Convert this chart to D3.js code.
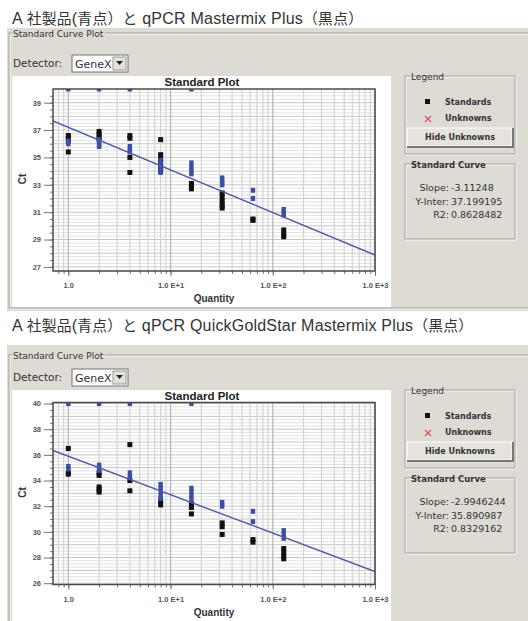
<!DOCTYPE html>
<html lang="ja">
<head>
<meta charset="UTF-8">
<title>Standard Curve Plot</title>
<style>
  body { margin: 0; background: #fff; }
  svg text { font-family: "DejaVu Sans", sans-serif; }
</style>
</head>
<body>
<svg id="chart"></svg>
<script src="https://cdn.jsdelivr.net/npm/d3@7/dist/d3.min.js"></script>
<script>
// ---- data ----
var quantities = [1, 2, 4, 8, 16, 32, 64, 128];
var xTickValues = [1, 10, 100, 1000];
var xTickLabels = ["1.0", "1.0 E+1", "1.0 E+2", "1.0 E+3"];
var headings = [
    "A 社製品(青点）と qPCR Mastermix Plus（黒点）",
    "A 社製品(青点）と qPCR QuickGoldStar Mastermix Plus（黒点）"
];

// panel 1 : Ct values per quantity (40 = undetermined)
var yTicks1 = [27, 29, 31, 33, 35, 37, 39];
var blueCt1 = [
    [40, 36.2, 36.0],
    [40, 36.3, 36.1, 35.9, 35.8],
    [40, 35.8, 35.6, 35.4],
    [34.8, 34.5, 34.2, 33.9],
    [40, 34.6, 34.3, 34.0, 33.8],
    [33.5, 33.2, 33.0],
    [32.6, 32.0],
    [31.2, 31.0, 30.8]
];
var blackCt1 = [
    [36.6, 36.4, 36.2, 35.4],
    [36.9, 36.7, 36.5, 36.3],
    [36.6, 36.4, 35.0, 33.9],
    [36.3, 35.2, 34.9, 34.6, 34.3, 34.0],
    [33.1, 32.9, 32.7],
    [32.4, 32.1, 31.8, 31.5, 31.3],
    [30.5, 30.4],
    [29.7, 29.4, 29.2]
];
var slope1 = -3.11248, inter1 = 37.199195, r2_1 = "0.8628482";

// panel 2
var yTicks2 = [26, 28, 30, 32, 34, 36, 38, 40];
var blueCt2 = [
    [40, 35.1, 34.9],
    [40, 35.2, 35.0, 34.8],
    [40, 34.6, 34.3],
    [33.7, 33.4, 33.1, 32.8, 32.6],
    [40, 33.4, 33.1, 32.8, 32.5],
    [32.3, 32.0],
    [31.6, 30.8],
    [30.1, 29.8, 29.5]
];
var blackCt2 = [
    [36.5, 34.6, 34.5],
    [34.6, 34.4, 33.5, 33.3, 33.1],
    [36.8, 34.0, 33.2],
    [32.4, 32.1],
    [32.2, 31.9, 31.4],
    [30.7, 30.4, 29.8],
    [29.4, 29.2],
    [28.7, 28.4, 28.1, 27.9]
];
var slope2 = -2.9946244, inter2 = 35.890987, r2_2 = "0.8329162";

// ---- drawing ----
var W = 528, H = 621;
var gray = "#dedbd4";
var svg = d3.select("#chart").attr("width", W).attr("height", H);

function etched(g, x, y, w, h) {
    g.append("rect").attr("x", x + 1).attr("y", y + 1).attr("width", w).attr("height", h)
        .attr("fill", "none").attr("stroke", "#fff");
    g.append("rect").attr("x", x).attr("y", y).attr("width", w).attr("height", h)
        .attr("fill", "none").attr("stroke", "#a6a39c");
}

function groupLabel(g, x, y, label, bold) {
    var t = g.append("text").attr("x", x).attr("y", y + 3.5)
        .attr("font-size", bold ? 8.5 : 9).attr("font-weight", bold ? "bold" : "normal")
        .attr("fill", "#333").text(label);
    var bb = t.node().getBBox();
    g.insert("rect", "text").attr("x", bb.x - 1).attr("y", bb.y).attr("width", bb.width + 2)
        .attr("height", bb.height).attr("fill", gray);
}

function toPoints(lists) {
    var pts = [];
    lists.forEach(function (arr, i) {
        arr.forEach(function (ct) { pts.push({ q: quantities[i], ct: ct }); });
    });
    return pts;
}

function drawPanel(p) {
    var g = svg.append("g");

    // heading: latin runs a bit larger than the kana/kanji runs
    var head = svg.append("text").attr("x", 12).attr("y", p.headY)
        .style("font-family", "'Liberation Sans', 'Noto Sans CJK JP', sans-serif")
        .attr("fill", "#333")
        .attr("textLength", p.headWidth).attr("lengthAdjust", "spacing");
    p.heading.split(/([\u3000-\u9fff\uff00-\uffef]+)/).filter(s => s.length).forEach(function (s) {
        var cjk = /[\u3000-\u9fff\uff00-\uffef]/.test(s);
        head.append("tspan").attr("font-size", cjk ? 14.8 : 16).text(s);
    });

    // window background
    g.append("rect").attr("x", 7).attr("y", p.grayTop).attr("width", W - 7)
        .attr("height", p.grayBottom - p.grayTop).attr("fill", gray);
    etched(g, 9, p.groupY, W, p.grayBottom - p.groupY - 3);
    groupLabel(g, 13, p.groupY, "Standard Curve Plot");

    // detector combo
    g.append("text").attr("x", 13).attr("y", p.detY + 4).attr("font-size", 10.5)
        .attr("fill", "#333").text("Detector:");
    g.append("rect").attr("x", 72).attr("y", p.detY - 8).attr("width", 56).attr("height", 17)
        .attr("fill", "#fff").attr("stroke", "#777");
    g.append("text").attr("x", 75).attr("y", p.detY + 4.5).attr("font-size", 11)
        .attr("fill", "#333").text("GeneX");
    g.append("rect").attr("x", 113).attr("y", p.detY - 6).attr("width", 13).attr("height", 13)
        .attr("fill", "#e4e1da").attr("stroke", "#999");
    g.append("path").attr("d", "M116," + (p.detY - 2) + "h7l-3.5,4z").attr("fill", "#222");

    // white plot background
    g.append("rect").attr("x", 12).attr("y", p.whiteTop).attr("width", 379)
        .attr("height", p.whiteBottom - p.whiteTop).attr("fill", "#fff");

    var fx0 = 53, fx1 = 375, fy0 = p.frameTop, fy1 = p.frameTop + 182;
    var x = d3.scaleLog().domain([0.708, 1000]).range([fx0, fx1]);
    var y = d3.scaleLinear().domain(p.yDomain).range([fy1, fy0]);

    // grid
    var grid = g.append("g");
    var fine = d3.range(Math.ceil(p.yDomain[0] * 4) / 4, p.yDomain[1], 0.25);
    grid.selectAll(".hf").data(fine).enter().append("line")
        .attr("x1", fx0).attr("x2", fx1).attr("y1", d => y(d)).attr("y2", d => y(d))
        .attr("stroke", d => d % 1 === 0 ? "#c6c6c6" : "#e2e2e2").attr("stroke-width", 1);
    grid.selectAll(".vg").data(x.ticks()).enter().append("line")
        .attr("y1", fy0).attr("y2", fy1).attr("x1", d => x(d)).attr("x2", d => x(d))
        .attr("stroke", d => xTickValues.indexOf(d) >= 0 ? "#b5b5b5" : "#d4d4d4").attr("stroke-width", 1.2);

    // axes
    var yMinor = g.append("g").attr("transform", "translate(" + fx0 + ",0)")
        .call(d3.axisLeft(y).tickValues(d3.range(Math.ceil(p.yDomain[0] * 2) / 2, p.yDomain[1], 0.5))
            .tickSize(3).tickFormat(""));
    var yAxis = g.append("g").attr("transform", "translate(" + fx0 + ",0)")
        .call(d3.axisLeft(y).tickValues(p.yTicks).tickSize(9).tickPadding(3));
    var xMinor = g.append("g").attr("transform", "translate(0," + fy1 + ")")
        .call(d3.axisBottom(x).tickValues(x.ticks()).tickSize(3).tickFormat(""));
    var xAxis = g.append("g").attr("transform", "translate(0," + fy1 + ")")
        .call(d3.axisBottom(x).tickValues(xTickValues).tickSize(5).tickPadding(7)
            .tickFormat((d, i) => xTickLabels[i]));
    [yMinor, yAxis, xMinor, xAxis].forEach(function (a) {
        a.select(".domain").remove();
        a.selectAll("line").attr("stroke", "#777");
        a.selectAll("text").style("font-family", "'Liberation Sans', sans-serif")
            .attr("font-size", 7.5).attr("font-weight", "bold").attr("fill", "#555");
    });

    // points
    var clipId = "clip" + p.id;
    g.append("clipPath").attr("id", clipId).append("rect")
        .attr("x", fx0).attr("y", fy0).attr("width", fx1 - fx0).attr("height", fy1 - fy0);
    var pts = g.append("g").attr("clip-path", "url(#" + clipId + ")");
    pts.selectAll(".blk").data(toPoints(p.black)).enter().append("rect")
        .attr("x", d => x(d.q) - 2.5).attr("y", d => y(d.ct) - 2.5)
        .attr("width", 5).attr("height", 5).attr("fill", "#111");
    pts.selectAll(".blu").data(toPoints(p.blue)).enter().append("rect")
        .attr("x", d => x(d.q) - 2.2).attr("y", d => y(d.ct) - 2.5)
        .attr("width", 4.4).attr("height", 5).attr("fill", "#3d4ea6");

    // regression line
    var dom = x.domain();
    pts.append("line")
        .attr("x1", x(dom[0])).attr("y1", y(p.slope * Math.log10(dom[0]) + p.inter))
        .attr("x2", x(dom[1])).attr("y2", y(p.slope * Math.log10(dom[1]) + p.inter))
        .attr("stroke", "#5457a4").attr("stroke-width", 1.4);

    // frame
    g.append("rect").attr("x", fx0).attr("y", fy0).attr("width", fx1 - fx0).attr("height", fy1 - fy0)
        .attr("fill", "none").attr("stroke", "#4a4a4a").attr("stroke-width", 1.5);

    // titles
    g.append("text").attr("x", 202).attr("y", fy0 - 3).attr("text-anchor", "middle")
        .style("font-family", "'Liberation Sans', sans-serif").attr("font-size", 11.5)
        .attr("font-weight", "bold").attr("fill", "#222").text("Standard Plot");
    g.append("text").attr("x", 214).attr("y", fy1 + 31).attr("text-anchor", "middle")
        .style("font-family", "'Liberation Sans', sans-serif").attr("font-size", 10)
        .attr("font-weight", "bold").attr("fill", "#333").text("Quantity");
    g.append("text").attr("transform", "translate(26," + (fy0 + 90) + ") rotate(-90)")
        .attr("text-anchor", "middle")
        .style("font-family", "'Liberation Sans', sans-serif").attr("font-size", 10)
        .attr("font-weight", "bold").attr("fill", "#333").text("Ct");

    // legend group
    var ly = p.legendTop;
    etched(g, 405, ly, 110, 78);
    groupLabel(g, 411, ly, "Legend");
    g.append("rect").attr("x", 425).attr("y", ly + 23).attr("width", 5).attr("height", 5).attr("fill", "#111");
    g.append("text").attr("x", 445).attr("y", ly + 29).attr("font-size", 8).attr("font-weight", "bold")
        .attr("fill", "#333").text("Standards");
    g.append("path").attr("d", "M425," + (ly + 40) + "l6,6M431," + (ly + 40) + "l-6,6")
        .attr("stroke", "#e0525a").attr("stroke-width", 1.3);
    g.append("text").attr("x", 445).attr("y", ly + 45).attr("font-size", 8).attr("font-weight", "bold")
        .attr("fill", "#333").text("Unknowns");
    g.append("rect").attr("x", 407).attr("y", ly + 52).attr("width", 105).attr("height", 18)
        .attr("fill", "#e6e3dc").attr("stroke", "#fff");
    g.append("path").attr("d", "M407," + (ly + 71) + "h106v-19").attr("fill", "none")
        .attr("stroke", "#555").attr("stroke-width", 1.5);
    g.append("text").attr("x", 460).attr("y", ly + 64).attr("text-anchor", "middle")
        .attr("font-size", 8).attr("font-weight", "bold").attr("fill", "#333").text("Hide Unknowns");

    // standard curve group
    var cy = p.legendTop + 88;
    etched(g, 405, cy, 110, 75);
    groupLabel(g, 411, cy, "Standard Curve", true);
    var rows = [["Slope:", String(p.slope)], ["Y-Inter:", String(p.inter)], ["R2:", p.r2]];
    rows.forEach(function (r, i) {
        g.append("text").attr("x", 449).attr("y", cy + 27 + i * 13.5).attr("text-anchor", "end")
            .attr("font-size", 9.5).attr("fill", "#333").text(r[0]);
        g.append("text").attr("x", 451).attr("y", cy + 27 + i * 13.5)
            .attr("font-size", 9.5).attr("fill", "#333").text(r[1]);
    });
}

drawPanel({
    id: 1, heading: headings[0], headY: 24, headWidth: 351,
    grayTop: 28, grayBottom: 311, groupY: 33, detY: 63, whiteTop: 76, whiteBottom: 307,
    frameTop: 89, yDomain: [26.7, 40], yTicks: yTicks1,
    blue: blueCt1, black: blackCt1, slope: slope1, inter: inter1, r2: r2_1, legendTop: 76
});
drawPanel({
    id: 2, heading: headings[1], headY: 331, headWidth: 461,
    grayTop: 345, grayBottom: 626, groupY: 355, detY: 377, whiteTop: 390, whiteBottom: 621,
    frameTop: 402.5, yDomain: [25.9, 40.08], yTicks: yTicks2,
    blue: blueCt2, black: blackCt2, slope: slope2, inter: inter2, r2: r2_2, legendTop: 390
});
</script>
</body>
</html>
